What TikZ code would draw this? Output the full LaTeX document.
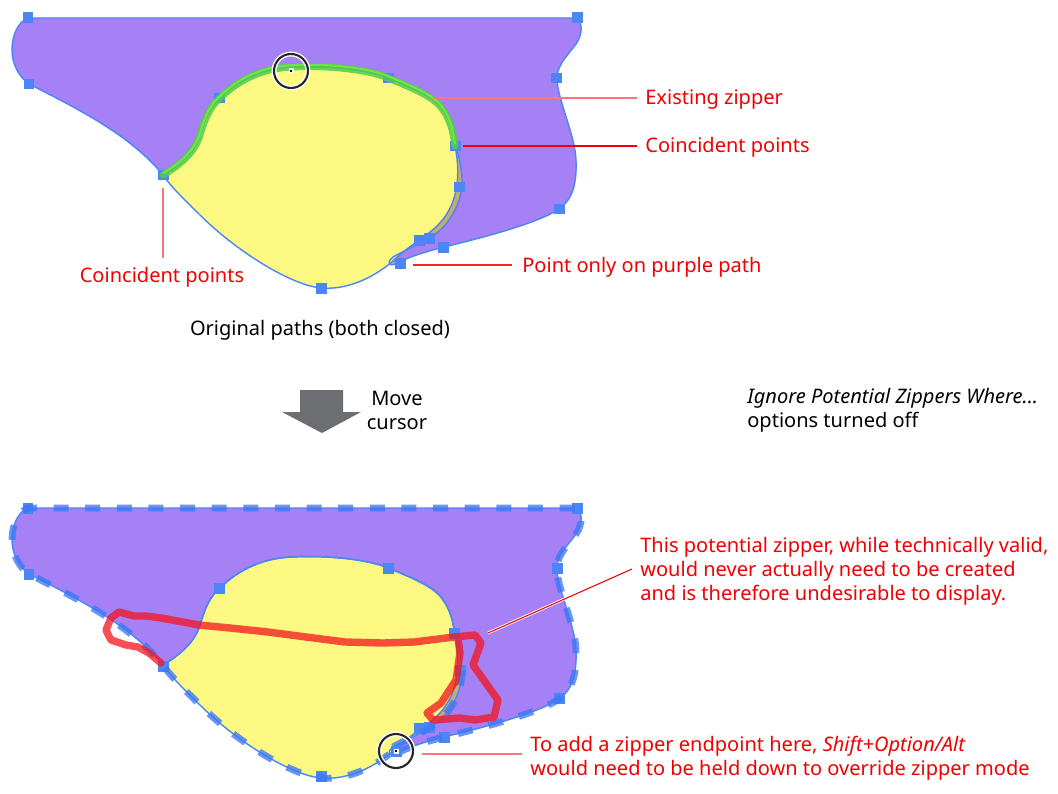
\documentclass[tikz,border=0pt]{standalone}
\usepackage{fontspec}
\setmainfont{Noto Sans}
\definecolor{purp}{RGB}{166,128,245}
\definecolor{yel}{RGB}{252,248,130}
\definecolor{bl}{RGB}{74,134,245}
\definecolor{dbl}{RGB}{60,120,245}
\definecolor{sliver}{RGB}{200,170,110}
\definecolor{grn}{RGB}{80,205,75}
\definecolor{lgrn}{RGB}{120,240,50}
\definecolor{lblred}{RGB}{240,0,0}
\definecolor{lightline}{RGB}{245,120,120}
\definecolor{zred}{RGB}{245,20,30}
\definecolor{arrowgray}{RGB}{109,110,113}
\newcommand\yellowP{(163,175) .. controls (180,165) and (195,152) .. (200,135) .. controls (205,118) and (210,107) .. (219,99) .. controls (240,78) and (265,68) .. (292,67) .. controls (330,65) and (370,70) .. (388,78) .. controls (410,87) and (430,95) .. (440,106) .. controls (450,118) and (453,130) .. (455,146) .. controls (461,175) and (458,205) .. (438,225) .. controls (425,238) and (405,248) .. (392,262) .. controls (370,280) and (345,290) .. (321,288) .. controls (290,285) and (235,250) .. (200,215) .. controls (185,200) and (172,188) .. (163,175) -- cycle}
\newcommand\greenP{(163,175) .. controls (180,165) and (195,152) .. (200,135) .. controls (205,118) and (210,107) .. (219,99) .. controls (240,78) and (265,68) .. (292,67) .. controls (330,65) and (370,70) .. (388,78) .. controls (410,87) and (430,95) .. (440,106) .. controls (450,118) and (453,130) .. (455,146)}
\newcommand\purpleP{(28,18) -- (577,18) .. controls (584,24) and (582,38) .. (573,48) .. controls (565,58) and (556,68) .. (557,80) .. controls (558,100) and (575,135) .. (576,160) .. controls (577,185) and (572,200) .. (559,209) .. controls (540,222) and (490,236) .. (444,247) .. controls (425,252) and (408,257) .. (398,263) .. controls (390,267) and (385,264) .. (393,257) .. controls (405,250) and (425,242) .. (438,232) .. controls (452,220) and (463,200) .. (462,178) .. controls (461,162) and (457,150) .. (455,146) .. controls (453,130) and (450,118) .. (440,106) .. controls (430,95) and (410,87) .. (388,78) .. controls (370,70) and (330,65) .. (292,67) .. controls (265,68) and (240,78) .. (219,99) .. controls (210,107) and (205,118) .. (200,135) .. controls (195,152) and (180,165) .. (163,175) .. controls (130,135) and (80,110) .. (29,84) .. controls (20,78) and (12,65) .. (12,50) .. controls (12,35) and (18,22) .. (28,18) -- cycle}
\newcommand\sliverP{(398,263) .. controls (390,267) and (385,264) .. (393,257) .. controls (405,250) and (425,242) .. (438,232) .. controls (452,220) and (463,200) .. (462,178) .. controls (461,162) and (457,150) .. (455,146) -- (392,262) -- cycle}
\newcommand\unionP{(398,263) .. controls (408,257) and (425,252) .. (444,247) .. controls (490,236) and (540,222) .. (559,209) .. controls (572,200) and (577,185) .. (576,160) .. controls (575,135) and (558,100) .. (557,80) .. controls (556,68) and (565,58) .. (573,48) .. controls (582,38) and (584,24) .. (577,18) -- (28,18) .. controls (18,22) and (12,35) .. (12,50) .. controls (12,65) and (20,78) .. (29,84) .. controls (80,110) and (130,135) .. (163,175) .. controls (172,188) and (185,200) .. (200,215) .. controls (235,250) and (290,285) .. (321,288) .. controls (345,290) and (370,280) .. (392,262) -- cycle}
\newcommand\innerP{(393,257) .. controls (405,250) and (425,242) .. (438,232) .. controls (452,220) and (463,200) .. (462,178)}
\begin{document}
\begin{tikzpicture}[x=0.02cm,y=-0.02cm,
  outline/.style={draw=bl, line width=0.8pt},
  sq/.style={fill=bl, inner sep=0pt, minimum size=0.22cm, draw=none},
  cursorring/.style={draw=black!85, line width=1.2pt, preaction={draw=white, line width=2.8pt}},
  label/.style={text=lblred, inner sep=0pt, font=\fontsize{11.4}{13.6}\selectfont},
  plain/.style={text=black, inner sep=0pt, font=\fontsize{11.4}{13.6}\selectfont},
  haloline/.style={draw=white, double=#1, double distance=0.6pt, line width=0.5pt},
  leader/.style={draw=lightline, line width=0.7pt},
  dashline/.style={draw=dbl, draw opacity=0.78, line width=3.9pt, dash pattern=on 8.5pt off 9.5pt},
  zipper/.style={draw=zred, draw opacity=0.75, line width=4.2pt, line join=round, line cap=round}]
\useasboundingbox (0,0) rectangle (1058,794);
% ---------- top figure ----------
\begin{scope}
\fill[purp] \purpleP;
\fill[sliver] \sliverP;
\fill[yel] \yellowP;
\draw[outline] \purpleP;
\draw[outline] \yellowP;
\foreach \p/\n in {{(28,18)}/a1,{(577,18)}/a2,{(29,84)}/a3,{(556,78)}/a4,{(559,209)}/a5,{(163,175)}/a6,{(219,98)}/a7,{(388,78)}/a8,{(455,146)}/a9,{(459,187)}/a10,{(419,240)}/a11,{(429,238)}/a12,{(443,247)}/a13,{(400,263)}/a14,{(321,288)}/a15}
  \node[sq] (\n) at \p {};
\draw[grn, line width=4pt, opacity=0.85, line cap=round] \greenP;
\draw[lgrn, line width=1.2pt, opacity=0.8, yshift=0.035cm] \greenP;
\draw[cursorring] (291,71) circle[radius=17];
\node[fill=white, inner sep=0pt, minimum size=0.1cm] (c1w) at (291,71) {};
\node[fill=black, inner sep=0pt, minimum size=0.045cm] (c1) at (291,71) {};
\end{scope}
% labels top
\node[label, anchor=west] (ez) at (645,100) {Existing zipper};
\coordinate (ezs) at (433,98);
\draw[haloline=lightline] (ezs) -- (637,98);
\node[label, anchor=west] (cp1) at (645,147) {Coincident points};
\coordinate (cp1s) at (463,146);
\draw[haloline=lblred] (cp1s) -- (637,146);
\node[label] (cp2) at (162,277) {Coincident points};
\coordinate (cp2s) at (163,188);
\draw[leader] (cp2s) -- (163,258);
\node[label, anchor=west] (pop) at (522,267) {Point only on purple path};
\coordinate (pops) at (413,265);
\draw[leader, draw=lblred!85] (pops) -- (512,265);
\node[plain] (orig) at (320,330) {Original paths (both closed)};
% arrow
\fill[arrowgray] (300,390) -- (343,390) -- (343,412) -- (361,412) -- (322,433) -- (282,412) -- (300,412) -- cycle;
\node[plain, align=center] (mv) at (397,410) {Move\\cursor};
\node[plain, align=left, anchor=west] (ign) at (747,410) {\textit{Ignore Potential Zippers Where...}\\options turned off};
% ---------- bottom figure ----------
\begin{scope}[shift={(0,490)}]
\fill[purp] \purpleP;
\fill[sliver] \sliverP;
\fill[yel] \yellowP;
\draw[outline] \purpleP;
\draw[outline] \yellowP;
\foreach \p/\n in {{(28,18)}/b1,{(577,18)}/b2,{(29,84)}/b3,{(557,78)}/b4,{(559,208)}/b5,{(163,176)}/b6,{(219,98)}/b7,{(388,78)}/b8,{(454,143)}/b9,{(460,180)}/b10,{(419,238)}/b11,{(429,237)}/b12,{(444,247)}/b13,{(321,286)}/b15}
  \node[sq] (\n) at \p {};
\draw[dashline] \unionP;
\draw[dashline] \innerP;
\node[sq] (b14) at (396,261) {};
\end{scope}
\draw[zipper] (161,663) -- (149,653) -- (138,647) -- (126,645) -- (111,640) -- (106,630) -- (111,618) -- (119,612) -- (134,616) -- (146,616) -- (161,618) -- (199,625) -- (230,628) -- (268,632) -- (306,637) -- (345,642) -- (383,643) -- (414,642) -- (454,637) -- (475,635) -- (481,643) -- (473,665) -- (498,700) -- (494,717) -- (475,720) -- (460,718) -- (433,720) -- (427,713) -- (441,703) -- (456,680) -- (460,653) -- (458,638);
\draw[cursorring] (396,751) circle[radius=17];
\node[fill=white, inner sep=0pt, minimum size=0.1cm] (c2w) at (396,751) {};
\node[fill=black, inner sep=0pt, minimum size=0.045cm] (c2) at (396,751) {};
% labels bottom
\node[label, align=left, anchor=north west] (pz) at (640,537) {This potential zipper, while technically valid,\\would never actually need to be created\\and is therefore undesirable to display.};
\coordinate (pzs) at (488,633);
\coordinate (pze) at (632,569);
\draw[haloline=lblred] (pzs) -- (pze);
\node[label, align=left, anchor=north west] (ta) at (530,736) {To add a zipper endpoint here, \textit{Shift+Option/Alt}\\would need to be held down to override zipper mode};
\coordinate (tas) at (422,754);
\draw[leader] (tas) -- (522,754);
\end{tikzpicture}
\end{document}
